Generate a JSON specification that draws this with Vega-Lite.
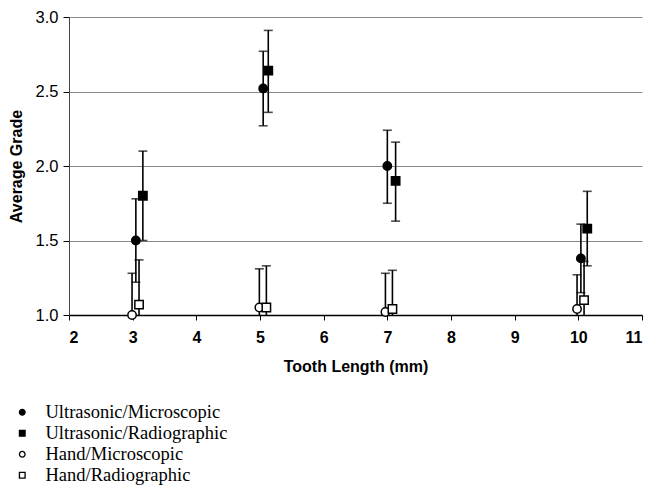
{
  "$schema": "https://vega.github.io/schema/vega-lite/v6.json",
  "width": 573,
  "height": 298,
  "autosize": "none",
  "padding": {"left": 69, "top": 17, "right": 7, "bottom": 172},
  "background": "white",
  "config": {
    "view": {"stroke": null},
    "axis": {"labelFont": "Liberation Sans", "titleFont": "Liberation Sans", "labelColor": "black", "titleColor": "black", "domainColor": "black", "tickColor": "black"},
    "legend": {"symbolStrokeColor": "black", "symbolStrokeWidth": 1.3}
  },
  "data": {
    "values": [
      {"series": "Ultrasonic/Microscopic", "x": 3.05, "y": 1.50, "lo": 1.22, "hi": 1.78},
      {"series": "Ultrasonic/Microscopic", "x": 5.05, "y": 2.52, "lo": 2.27, "hi": 2.77},
      {"series": "Ultrasonic/Microscopic", "x": 7.00, "y": 2.00, "lo": 1.75, "hi": 2.24},
      {"series": "Ultrasonic/Microscopic", "x": 10.04, "y": 1.38, "lo": 1.15, "hi": 1.61},
      {"series": "Ultrasonic/Radiographic", "x": 3.16, "y": 1.80, "lo": 1.50, "hi": 2.10},
      {"series": "Ultrasonic/Radiographic", "x": 5.13, "y": 2.64, "lo": 2.36, "hi": 2.91},
      {"series": "Ultrasonic/Radiographic", "x": 7.13, "y": 1.90, "lo": 1.63, "hi": 2.16},
      {"series": "Ultrasonic/Radiographic", "x": 10.14, "y": 1.58, "lo": 1.33, "hi": 1.83},
      {"series": "Hand/Microscopic", "x": 2.99, "y": 1.00, "lo": 0.72, "hi": 1.28},
      {"series": "Hand/Microscopic", "x": 4.99, "y": 1.05, "lo": 0.79, "hi": 1.31},
      {"series": "Hand/Microscopic", "x": 6.97, "y": 1.02, "lo": 0.76, "hi": 1.28},
      {"series": "Hand/Microscopic", "x": 9.98, "y": 1.04, "lo": 0.81, "hi": 1.27},
      {"series": "Hand/Radiographic", "x": 3.10, "y": 1.07, "lo": 0.77, "hi": 1.37},
      {"series": "Hand/Radiographic", "x": 5.10, "y": 1.05, "lo": 0.77, "hi": 1.33},
      {"series": "Hand/Radiographic", "x": 7.08, "y": 1.04, "lo": 0.78, "hi": 1.30},
      {"series": "Hand/Radiographic", "x": 10.09, "y": 1.10, "lo": 0.84, "hi": 1.36}
    ]
  },
  "encoding": {
    "x": {
      "field": "x", "type": "quantitative",
      "scale": {"domain": [2, 11], "nice": false, "zero": false},
      "axis": {"values": [2,3,4,5,6,7,8,9,10,11], "grid": false, "title": "Tooth Length (mm)", "titleFontSize": 16, "titleFontWeight": "bold", "titlePadding": 13, "labelFontSize": 16, "labelFontWeight": "bold", "tickSize": 5, "labelPadding": 9, "domainWidth": 1.5}
    }
  },
  "layer": [
    {
      "mark": {"type": "rule", "color": "black", "strokeWidth": 1.6, "clip": true},
      "encoding": {
        "y": {"field": "lo", "type": "quantitative", "scale": {"domain": [1, 3], "nice": false, "zero": false},
          "axis": {
            "values": [1, 1.25, 1.5, 1.75, 2, 2.25, 2.5, 2.75, 3],
            "labelExpr": "datum.value % 0.5 === 0 ? format(datum.value, '.1f') : ''",
            "title": "Average Grade", "titleFontSize": 16, "titleFontWeight": "bold", "titlePadding": 11,
            "labelFontSize": 16.5, "labelPadding": 5,
            "grid": true, "gridColor": "#8a8a8a",
            "gridOpacity": {"condition": {"test": "datum.value % 0.5 !== 0", "value": 0}, "value": 1},
            "tickSize": {"condition": {"test": "datum.value % 0.5 !== 0", "value": 3}, "value": 6},
            "domainColor": "#444"
          }},
        "y2": {"field": "hi"}
      }
    },
    {
      "mark": {"type": "tick", "orient": "horizontal", "color": "black", "thickness": 1.6, "size": 9, "clip": true},
      "encoding": {"y": {"field": "hi", "type": "quantitative"}}
    },
    {
      "mark": {"type": "tick", "orient": "horizontal", "color": "black", "thickness": 1.6, "size": 9, "clip": true},
      "encoding": {"y": {"field": "lo", "type": "quantitative"}}
    },
    {
      "mark": {"type": "point", "opacity": 1, "strokeWidth": 1.5, "size": 70},
      "encoding": {
        "y": {"field": "y", "type": "quantitative"},
        "shape": {"field": "series", "type": "nominal",
          "scale": {"domain": ["Ultrasonic/Microscopic", "Ultrasonic/Radiographic", "Hand/Microscopic", "Hand/Radiographic"], "range": ["circle", "square", "circle", "square"]},
          "legend": {"title": null, "orient": "none", "legendX": -56, "legendY": 386, "labelFont": "Liberation Serif", "labelFontSize": 18.5, "labelColor": "black", "symbolSize": 32, "labelOffset": 14, "rowPadding": 2, "labelLimit": 400}},
        "fill": {"field": "series", "type": "nominal",
          "scale": {"domain": ["Ultrasonic/Microscopic", "Ultrasonic/Radiographic", "Hand/Microscopic", "Hand/Radiographic"], "range": ["black", "black", "white", "white"]},
          "legend": {"title": null, "orient": "none", "legendX": -56, "legendY": 386, "labelFont": "Liberation Serif", "labelFontSize": 18.5, "labelColor": "black", "symbolSize": 32, "labelOffset": 14, "rowPadding": 2, "labelLimit": 400}},
        "stroke": {"field": "series", "type": "nominal",
          "scale": {"domain": ["Ultrasonic/Microscopic", "Ultrasonic/Radiographic", "Hand/Microscopic", "Hand/Radiographic"], "range": ["black", "black", "black", "black"]},
          "legend": {"title": null, "orient": "none", "legendX": -56, "legendY": 386, "labelFont": "Liberation Serif", "labelFontSize": 18.5, "labelColor": "black", "symbolSize": 32, "labelOffset": 14, "rowPadding": 2, "labelLimit": 400}}
      }
    }
  ]
}
